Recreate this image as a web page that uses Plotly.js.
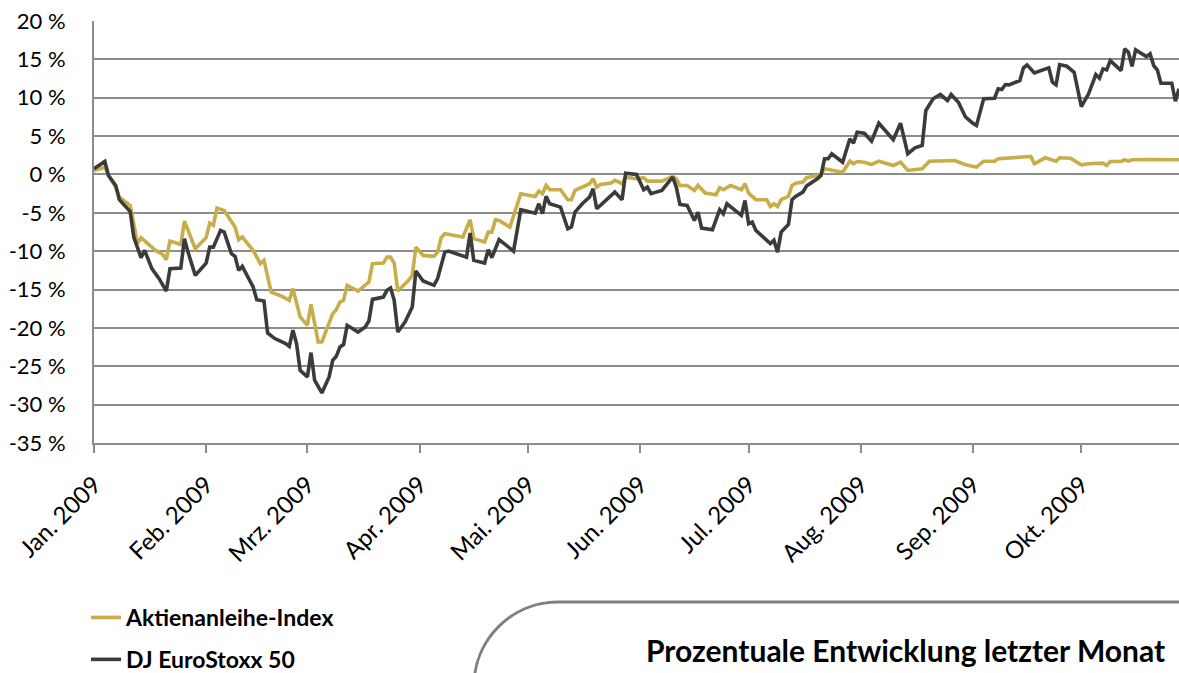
<!DOCTYPE html>
<html><head><meta charset="utf-8">
<script src="https://cdn.plot.ly/plotly-3.0.1.min.js"></script>
<style>html,body{margin:0;padding:0;background:#fff;}#chart{width:1179px;height:673px;}</style>
</head><body><div id="chart"></div>
<script>
const year = "2009";
const seriesNames = ["Aktienanleihe-Index", "DJ EuroStoxx 50"];

const anleiheDates = ["01-01","01-04","01-05","01-07","01-08","01-11","01-12","01-13","01-14","01-16","01-18","01-20","01-21","01-22","01-25","01-26","01-29",
"02-01","02-02","02-03","02-04","02-06","02-09","02-10","02-11","02-14","02-16","02-17","02-19","02-22","02-24","02-25","02-27",
"03-01","03-02","03-04","03-05","03-08","03-09","03-10","03-11","03-12","03-15","03-18","03-19","03-22","03-23","03-24","03-25","03-26","03-29","03-30","03-31",
"04-02","04-05","04-06","04-07","04-08","04-13","04-15","04-16","04-19","04-20","04-21","04-22","04-23","04-26","04-29",
"05-03","05-04","05-05","05-06","05-07","05-10","05-12","05-13","05-14","05-16","05-18","05-19","05-20","05-21","05-24","05-25","05-27","05-28","05-31",
"06-02","06-03","06-07","06-10","06-11","06-12","06-14","06-16","06-17","06-19","06-22","06-23","06-24","06-26","06-29","06-30",
"07-01","07-03","07-06","07-07","07-08","07-09","07-10","07-12","07-13","07-14","07-16","07-17","07-20","07-21","07-22","07-24","07-27","07-29","07-30","07-31",
"08-02","08-04","08-06","08-10","08-12","08-14","08-18","08-20","08-24","08-27","08-30",
"09-02","09-04","09-07","09-08","09-11","09-14","09-17","09-18","09-21","09-24","09-25","09-28",
"10-01","10-03","10-07","10-08","10-09","10-12","10-13","10-14","10-15","10-20","10-24","10-28"];
const anleiheValues = [0.52,0.95,-0.13,-1.65,-2.96,-4.04,-6.42,-9.02,-8.24,-9.02,-9.9,-10.42,-11.11,-8.68,-9.11,-6.08,-9.67,
-8.24,-6.34,-6.64,-4.39,-4.69,-6.86,-8.5,-8.16,-9.9,-11.63,-11.2,-15.33,-15.89,-16.41,-14.88,-18.58,
-19.66,-16.93,-21.84,-21.84,-18.14,-17.62,-16.63,-16.41,-14.45,-15.2,-14.02,-11.63,-11.55,-10.77,-10.77,-11.55,-15.2,-13.8,-13.15,-9.47,
-10.55,-10.68,-10.12,-8.24,-7.72,-8.16,-5.9,-8.37,-8.81,-7.51,-7.51,-5.9,-5.99,-6.86,-2.51,
-2.86,-2.17,-2.51,-1.43,-1.99,-1.99,-3.29,-3.29,-2.08,-1.65,-1.21,-0.56,-1.65,-1.3,-1.13,-0.78,-1.21,-0.35,-0.56,
-0.43,-0.87,-0.87,-0.26,-0.56,-1.43,-1.43,-2.08,-1.43,-2.43,-2.64,-1.73,-1.99,-1.43,-1.99,-1.21,
-2.43,-3.29,-3.29,-4.17,-3.82,-4.17,-3.29,-2.86,-1.43,-1.13,-1.0,-0.43,-0.13,0,0.74,0.61,0.3,1.73,1.39,1.69,
1.6,1.3,1.73,1.17,1.6,0.52,0.74,1.73,1.73,1.82,1.26,
0.95,1.73,1.73,2.04,2.12,2.25,2.34,1.39,2.17,1.73,2.17,2.12,
1.26,1.39,1.47,1.17,1.69,1.69,1.91,1.73,1.91,1.95,1.91,1.91];

const stoxxDates = ["01-01","01-04","01-05","01-07","01-08","01-11","01-12","01-13","01-14","01-15","01-16","01-17","01-19","01-21","01-22","01-25","01-26","01-27","01-29",
"02-01","02-02","02-03","02-05","02-06","02-08","02-09","02-10","02-11","02-14","02-15","02-17","02-18","02-20","02-23","02-24","02-25","02-26","02-27",
"03-01","03-02","03-03","03-05","03-07","03-08","03-09","03-10","03-11","03-12","03-15","03-17","03-18","03-19","03-22","03-23","03-24","03-25","03-26","03-28","03-30","03-31",
"04-02","04-05","04-06","04-08","04-09","04-14","04-15","04-16","04-19","04-20","04-21","04-23","04-27","04-29",
"05-03","05-04","05-05","05-06","05-07","05-10","05-12","05-13","05-14","05-16","05-18","05-19","05-20","05-25","05-27","05-28","05-31",
"06-02","06-03","06-04","06-07","06-10","06-11","06-12","06-14","06-16","06-17","06-18","06-21","06-23","06-24","06-25","06-29","06-30",
"07-01","07-02","07-03","07-05","07-07","07-08","07-09","07-10","07-12","07-13","07-14","07-16","07-17","07-20","07-21","07-22","07-23","07-24","07-27","07-29","07-30","07-31",
"08-02","08-04","08-06","08-10","08-12","08-14","08-16","08-18","08-19","08-21","08-23","08-25","08-26","08-28","08-30",
"09-01","09-02","09-04","09-07","09-08","09-09","09-10","09-11","09-14","09-15","09-16","09-18","09-22","09-23","09-24","09-25","09-27","09-29",
"10-01","10-03","10-05","10-06","10-07","10-08","10-09","10-12","10-13","10-14","10-15","10-16","10-19","10-20","10-21","10-22","10-23","10-26","10-27","10-28"];
const stoxxValues = [0.74,1.69,-0.13,-1.43,-3.29,-4.82,-8.16,-9.67,-10.85,-9.9,-11.2,-12.28,-13.58,-15.2,-12.28,-12.2,-8.37,-10.12,-13.15,
-11.55,-9.47,-9.47,-7.29,-7.51,-10.33,-10.68,-12.5,-11.98,-14.67,-16.32,-16.5,-20.66,-21.39,-22.04,-22.4,-20.3,-22.04,-25.52,
-26.39,-23.22,-26.82,-28.48,-26.39,-24.22,-23.7,-22.49,-22.17,-19.66,-20.53,-19.88,-19.1,-16.28,-15.98,-15.1,-14.8,-16.4,-20.53,-19.23,-17.28,-12.59,
-13.89,-14.45,-13.58,-10.12,-9.99,-10.77,-7.64,-11.2,-11.55,-9.8,-10.85,-8.5,-9.99,-4.6,
-5.04,-3.82,-5.12,-2.86,-3.82,-4.26,-7.07,-6.86,-4.91,-3.82,-2.96,-1.86,-4.47,-2.3,-3.29,0.17,0,
-1.99,-1.65,-2.51,-2.08,-0.35,-1.65,-3.91,-4.04,-5.99,-4.91,-6.99,-7.2,-4.6,-5.12,-3.82,-5.34,-3.39,
-6.42,-6.21,-7.29,-8.16,-9.02,-8.59,-10.12,-7.51,-6.51,-3.29,-2.86,-2.3,-1.52,-0.56,-0.13,2.04,2.04,2.7,1.6,4.65,4.08,5.51,
5.38,4.34,6.68,4.52,6.68,2.7,3.48,3.78,8.33,9.86,10.42,9.64,10.42,9.41,7.46,
6.68,6.38,9.86,9.93,11.16,11.07,11.72,11.68,12.24,13.89,14.28,13.24,13.89,12.02,11.68,14.32,14.1,13.32,
8.85,10.51,13.02,12.54,13.76,13.63,14.84,13.54,16.37,15.92,14.1,16.24,15.36,15.72,14.19,13.63,11.89,11.89,9.54,11.16];

const monthTicks = ["01-01","02-01","03-01","04-01","05-01","06-01","07-01","08-01","09-01","10-01"];
const monthLabels = ["Jan. 2009","Feb. 2009","Mrz. 2009","Apr. 2009","Mai. 2009","Jun. 2009","Jul. 2009","Aug. 2009","Sep. 2009","Okt. 2009"];
const yTicks = [20,15,10,5,0,-5,-10,-15,-20,-25,-30,-35];
const yTickLabels = yTicks.map(v => v + " %");
const xRange = ["01-01","10-28"];
const boxTitle = "Prozentuale Entwicklung letzter Monat";

const toDate = d => year + "-" + d;
const FONT = "Lato, 'Open Sans', sans-serif";
const GRID = "#8c8c8c";

// pixel -> paper helpers for decoration (plot area: x 94..1179, y 21..443)
const W = 1179, H = 673, ML = 94, MR = 0, MT = 21, MB = 230;
const pw = W - ML - MR, ph = H - MT - MB;
const px = x => (x - ML) / pw;
const py = y => (H - MB - y) / ph;

const traces = [
  {x: anleiheDates.map(toDate), y: anleiheValues, name: seriesNames[0], type: "scatter", mode: "lines",
   line: {color: "#c8ad48", width: 3.6}, legendgroup: "a"},
  {x: stoxxDates.map(toDate), y: stoxxValues, name: seriesNames[1], type: "scatter", mode: "lines",
   line: {color: "#3b3b3b", width: 3.6}, legendgroup: "b"}
];

const boxPath = "M " + px(474) + "," + py(686) +
  " C " + px(474) + "," + py(639.6) + " " + px(511.6) + "," + py(602) + " " + px(558) + "," + py(602) +
  " L " + px(1185) + "," + py(602);

const layout = {
  width: W, height: H, autosize: false,
  margin: {l: ML, r: MR, t: MT, b: MB, pad: 0, autoexpand: false},
  paper_bgcolor: "#fff", plot_bgcolor: "#fff",
  font: {family: FONT, color: "#000", size: 22},
  showlegend: true,
  legend: {x: px(86), y: py(596), xanchor: "left", yanchor: "top", orientation: "v",
    traceorder: "grouped", tracegroupgap: 9,
    font: {family: FONT, size: 23, color: "#000", weight: "bold"}, bgcolor: "rgba(0,0,0,0)"},
  xaxis: {type: "date", range: xRange.map(toDate), tickvals: monthTicks.map(toDate), ticktext: monthLabels,
    tickangle: -45, ticks: "outside", ticklen: 8, tickwidth: 2, tickcolor: GRID, ticklabelstandoff: 8,
    showline: true, linecolor: GRID, linewidth: 2, showgrid: false, zeroline: false, automargin: false,
    tickfont: {family: FONT, size: 24, color: "#000"}, fixedrange: true},
  yaxis: {range: [-35, 20], tickvals: yTicks, ticktext: yTickLabels, showgrid: true, gridcolor: GRID, gridwidth: 2,
    showline: true, linecolor: GRID, linewidth: 2, zeroline: false, ticks: "", ticklabelstandoff: 22, automargin: false,
    tickfont: {family: FONT, size: 22, color: "#000"}, fixedrange: true},
  shapes: [
    {type: "path", xref: "paper", yref: "paper", path: boxPath, line: {color: "#7f7f7f", width: 3}}
  ],
  annotations: [
    {xref: "paper", yref: "paper", x: px(905), y: py(650), text: boxTitle, showarrow: false,
     xanchor: "center", yanchor: "middle", font: {family: FONT, size: 30, color: "#000", weight: "bold"}}
  ]
};

Plotly.newPlot("chart", traces, layout, {displayModeBar: false, staticPlot: true});
</script>
</body></html>
